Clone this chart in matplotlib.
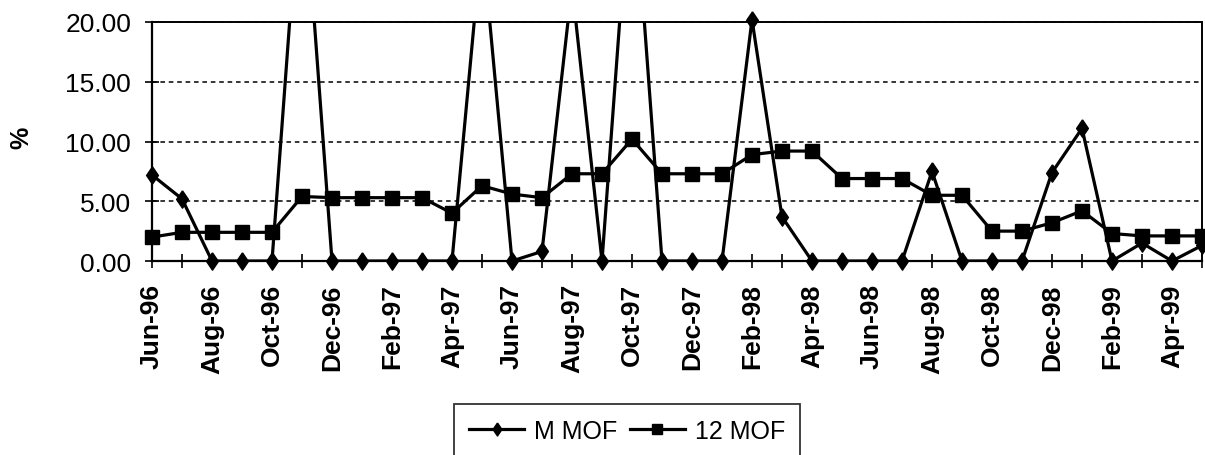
import numpy as np
import matplotlib
matplotlib.use('Agg')
import matplotlib.pyplot as plt
from matplotlib.lines import Line2D

plt.rcParams['font.family'] = ['Liberation Sans', 'DejaVu Sans']

# monthly series, Jun-96 .. May-99
months = ['Jun-96', 'Jul-96', 'Aug-96', 'Sep-96', 'Oct-96', 'Nov-96',
          'Dec-96', 'Jan-97', 'Feb-97', 'Mar-97', 'Apr-97', 'May-97',
          'Jun-97', 'Jul-97', 'Aug-97', 'Sep-97', 'Oct-97', 'Nov-97',
          'Dec-97', 'Jan-98', 'Feb-98', 'Mar-98', 'Apr-98', 'May-98',
          'Jun-98', 'Jul-98', 'Aug-98', 'Sep-98', 'Oct-98', 'Nov-98',
          'Dec-98', 'Jan-99', 'Feb-99', 'Mar-99', 'Apr-99', 'May-99']
m_mof = [7.2, 5.2, 0.0, 0.0, 0.0, 34.0, 0.0, 0.0, 0.0, 0.0, 0.0, 27.0,
         0.0, 0.8, 23.0, 0.0, 34.0, 0.0, 0.0, 0.0, 20.2, 3.7, 0.0, 0.0,
         0.0, 0.0, 7.5, 0.0, 0.0, 0.0, 7.4, 11.1, 0.0, 1.5, 0.0, 1.3]
twelve_mof = [2.0, 2.4, 2.4, 2.4, 2.4, 5.4, 5.3, 5.3, 5.3, 5.3, 4.0, 6.3,
              5.6, 5.3, 7.3, 7.3, 10.2, 7.3, 7.3, 7.3, 8.9, 9.2, 9.2, 6.9,
              6.9, 6.9, 5.5, 5.5, 2.5, 2.5, 3.2, 4.2, 2.3, 2.1, 2.1, 2.1]
y_ticks = [0, 5, 10, 15, 20]

x = np.arange(len(months))
ymax = 20

# tall diamond
diamond = [(0, 1), (0.68, 0), (0, -1), (-0.68, 0), (0, 1)]

fig = plt.figure(figsize=(12.05, 4.56), dpi=100)
ax = fig.add_axes([152 / 1205, 1 - 262 / 456, 1050 / 1205, 239 / 456])

series = [(m_mof, diamond, 12.5, 'M MOF'), (twelve_mof, 's', 9.5, '12 MOF')]
handles = []
for vals, mk, ms, name in series:
    v = np.array(vals, dtype=float)
    ax.plot(x, v, color='black', lw=2.3, zorder=3)
    # markers only for points inside the value range, unclipped at the edges
    vm = np.where(v <= ymax + 0.5, v, np.nan)
    ax.plot(x, vm, ls='none', marker=mk, ms=ms, color='black',
            clip_on=False, zorder=4)
    handles.append(Line2D([], [], color='black', lw=2.3, marker=mk,
                          ms=ms * 0.75, label=name))

ax.set_xlim(0, len(months) - 1)
ax.set_ylim(0, ymax)

ax.set_yticks(y_ticks)
ax.set_yticklabels(['%.2f' % t for t in y_ticks], fontsize=19)
ax.set_xticks(x)
ax.set_xticklabels([m if i % 2 == 0 else '' for i, m in enumerate(months)],
                   rotation=90, fontsize=19, fontweight='bold')
ax.tick_params(axis='x', direction='inout', length=10, width=1.2, pad=11)
ax.tick_params(axis='y', direction='inout', length=10, width=1.2, pad=10)

ax.yaxis.grid(True, color='black', lw=1.1, ls=(0, (3, 2.5)))
ax.set_axisbelow(True)

for side in ['top', 'right']:
    ax.spines[side].set_linestyle((0, (1, 1)))
    ax.spines[side].set_linewidth(1.4)
for side in ['left', 'bottom']:
    ax.spines[side].set_linewidth(1.6)

ax.set_ylabel('%', fontsize=18, fontweight='bold')
ax.yaxis.set_label_coords(-0.113, 0.52)

leg = fig.legend(handles=handles, loc='upper center', ncol=2,
                 bbox_to_anchor=(627 / 1205, 1 - 405 / 456),
                 fontsize=18, frameon=True, fancybox=False,
                 handlelength=2.2, handletextpad=0.4, columnspacing=0.5,
                 borderpad=0.6, borderaxespad=0)
leg.get_frame().set_edgecolor('black')
leg.get_frame().set_linewidth(1.3)

fig.savefig('out.png', dpi=100)
